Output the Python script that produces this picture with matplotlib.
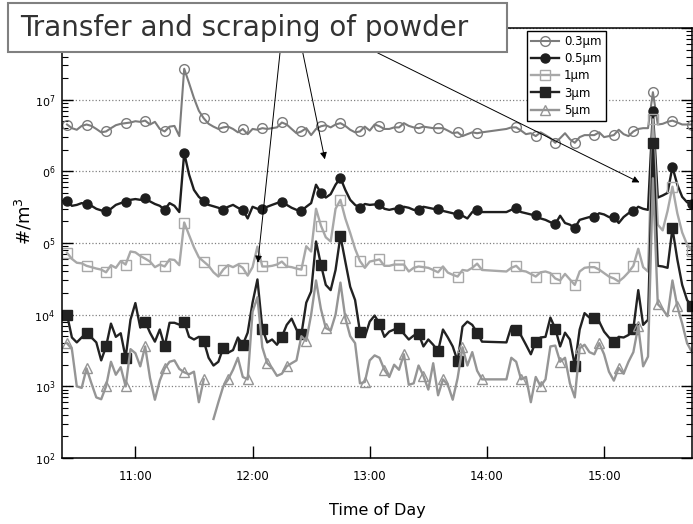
import numpy as np
import matplotlib
matplotlib.use('Agg')
import matplotlib.pyplot as plt
from matplotlib.lines import Line2D
from matplotlib.patches import Rectangle
from matplotlib.ticker import FixedLocator, FixedFormatter, LogLocator, NullFormatter

plt.rcParams['font.family'] = ['DejaVu Sans']
plt.rcParams['mathtext.default'] = 'regular'

# particle counter readings, one every 2.5 min starting 10:25
# None = no reading (logger gap), 0 = below detection
start_min = 25.0
step_min = 2.5

# 0.3 um, x1e6 #/m3
pm03 = [4.5, 4.0, 3.8, 4.3, 4.5, 4.3, 3.9, 3.5, 3.6, 4.0,
        4.4, 4.6, 4.7, 4.8, 5.0, 4.9, 5.1, 4.5, 4.9, 3.9,
        3.6, 4.2, 4.3, 3.1, 27, 17, 10.5, 7.0, 5.5, 4.6,
        4.2, 3.9, 4.1, 4.2, 3.9, 3.5, 3.9, 3.3, 3.9, 3.8,
        4.0, 3.9, 4.0, 4.1, 4.8, 4.5, 3.9, 3.4, 3.6, 4.0,
        3.2, 3.9, 4.25, 4.4, 4.1, 4.5, 4.7, 4.3, 3.8, 3.5,
        3.6, 4.2, 3.7, 4.5, 4.25, 3.9, 3.9, 4.1, 4.1, 4.7,
        4.3, 4.1, 4.0, 4.2, 4.1, 4.0, 4.0, 4.0, 3.7, 3.4,
        3.5, 3.1, 3.3, 3.5, 3.4, 3.5, None, None, None, None,
        3.9, 4.1, 4.1, 3.7, 3.3, 3.4, 3.1, 3.5, 3.2, 2.9,
        2.5, 2.9, 3.4, 2.8, 2.5, 3.0, 3.2, 3.2, 3.2, 3.5,
        3.0, 3.1, 3.2, 3.8, 3.3, 3.1, 3.6, 3.9, 4.0, 4.0,
        12.7, 4.5, 4.6, 4.9, 5.1, 4.8, 4.5, 4.5, 4.5]

# 0.5 um, x1e5 #/m3
pm05 = [3.86, 3.3, 3.4, 3.6, 3.5, 3.3, 3.0, 2.85, 2.8, 3.0,
        3.4, 3.6, 3.75, 4.0, 4.1, 4.0, 4.25, 3.8, 3.5, 3.3,
        2.9, 3.6, 3.3, 2.7, 18, 9.0, 5.5, 4.4, 3.86, 3.4,
        3.25, 3.1, 2.9, 3.2, 3.4, 3.1, 2.9, 2.2, 3.2, 3.0,
        3.0, 3.2, 3.4, 3.6, 3.75, 3.4, 3.1, 2.9, 2.8, 3.2,
        3.6, 6.5, 5.0, 4.3, 4.8, 6.5, 8.1, 5.5, 4.0, 3.4,
        3.1, 3.5, 3.4, 3.45, 3.5, 3.0, 2.9, 3.0, 3.0, 3.2,
        3.1, 2.9, 2.9, 3.2, 3.1, 3.0, 3.0, 2.8, 2.7, 2.6,
        2.5, 2.4, 2.2, 2.7, 2.9, 2.7, None, None, None, None,
        2.7, 2.9, 3.1, 2.7, 2.6, 2.5, 2.46, 2.2, 2.1, 1.95,
        1.84, 2.4, 1.9, 1.8, 1.62, 2.1, 2.2, 2.3, 2.3, 2.6,
        2.5, 2.3, 2.3, 1.9, 2.3, 2.6, 2.8, 3.2, 3.0, 2.9,
        69, 4.3, 4.6, 5.0, 11.5, 6.5, 4.4, 3.7, 3.5]

# 1 um, x1e4 #/m3
pm1 = [7.3, 6.0, 5.3, 5.2, 4.8, 4.6, 4.4, 4.25, 3.9, 4.9,
       4.5, 5.6, 5.0, 7.6, 7.4, 6.6, 6.05, 5.5, 4.6, 5.0,
       4.7, 5.9, 5.8, 4.9, 19.3, 12.9, 8.7, 6.3, 5.5, 4.8,
       3.9, 3.4, 4.25, 4.9, 4.6, 5.0, 4.5, 3.5, 4.6, 8.9,
       4.7, 4.7, 4.8, 5.0, 5.5, 4.7, 4.6, 4.4, 4.25, 9.0,
       7.6, 30, 17.5, 12.0, 10.5, 30, 40, 22, 13.8, 8.3,
       5.6, 4.5, 5.5, 5.7, 5.9, 4.8, 4.8, 5.0, 5.0, 5.0,
       4.0, 4.5, 4.7, 4.6, 4.5, 4.2, 3.9, 4.7, 3.86, 3.6,
       3.4, 4.2, 4.1, 4.5, 5.15, 4.2, None, None, None, None,
       4.0, 4.5, 4.8, 4.1, 4.0, 3.7, 3.4, 3.9, 4.0, 3.8,
       3.2, 3.0, 3.7, 3.1, 2.6, 4.0, 4.5, 4.6, 4.6, 4.25,
       3.8, 3.4, 3.2, 2.9, 3.3, 3.9, 4.8, 8.3, 4.6, 4.0,
       530, 18, 15, 28, 61, 26, 14, 9.5, 7.8]

# 3 um, #/m3
pm3 = [10000, 4800, 4100, 4800, 5600, 4800, 4100, 2300, 3600, 7500,
       4900, 5500, 2500, 8500, 14500, 6600, 8000, 5600, 4200, 6200,
       3600, 7700, 7700, 7250, 8000, 4900, 4500, 4900, 4300, 2500,
       1950, 2200, 3450, 2950, 3200, 4800, 3800, 5600, 14700, 31000,
       6400, 4100, 4500, 3800, 4900, 7200, 8800, 6200, 5300, 14700,
       21000, 105000, 50000, 26000, 22000, 42000, 125000, 55000, 24500, 16000,
       5800, 4900, 8000, 9700, 7500, 4900, 5800, 6200, 6600, 5400,
       4500, 5100, 5400, 3600, 4500, 3800, 3100, 6200, 4800, 3600,
       2250, 6800, 8000, 7200, 5600, 4200, None, None, None, None,
       4100, 6800, 6200, 5100, 3800, 2800, 4200, 4800, 4900, 9100,
       6400, 3600, 5600, 4500, 1950, 6200, 10500, 9100, 9100, 8000,
       5800, 4800, 4100, 4900, 4800, 5200, 6400, 22000, 7200, 8500,
       2500000, 48000, 47000, 45000, 160000, 59000, 26000, 16000, 13000]

# 5 um, #/m3
pm5 = [4000, 3300, 1000, 950, 1780, 1100, 700, 660, 1000, 2200,
       1450, 1850, 1000, 3300, 2900, 1900, 3600, 1300, 650, 1200,
       1780, 2200, 2300, 1750, 1570, 1470, 1600, 600, 1250, 0,
       350, 600, 1000, 1250, 1700, 2500, 1350, 1250, 11000, 17500,
       3500, 2100, 1800, 1400, 1500, 1900, 2100, 2300, 5000, 4300,
       10000, 30000, 12000, 6500, 6000, 10000, 28000, 9000, 5000, 4000,
       1100, 1150, 2300, 2700, 2500, 1700, 1350, 2000, 1700, 2800,
       1050, 1100, 1950, 1400, 900, 2100, 750, 1250, 1050, 650,
       1300, 3500, 1950, 3000, 1650, 1250, None, None, None, None,
       1250, 2500, 2200, 1250, 1350, 600, 1350, 1000, 1250, 3600,
       3700, 2200, 2500, 1100, 700, 3400, 3800, 3000, 2800, 4000,
       2800, 1600, 1200, 1800, 1500, 2200, 3000, 6900, 1900, 2600,
       800000, 14000, 11900, 9500, 30000, 13000, 7500, 4000, 3000]

labels = ['0.3\u03bcm', '0.5\u03bcm', '1\u03bcm', '3\u03bcm', '5\u03bcm']
scales = [1e6, 1e5, 1e4, 1, 1]
hour_ticks = [11, 12, 13, 14, 15]
hour_labels = ['11:00', '12:00', '13:00', '14:00', '15:00']
decades = [1e2, 1e3, 1e4, 1e5, 1e6, 1e7, 1e8]
# top label is hidden under the note box in the original
decade_labels = ['$10^{2}$', '$10^{3}$', '$10^{4}$', '$0^{5}$', '$0^{6}$', '$10^{7}$', '']

styles = [
    dict(color='#7c7c7c', lw=1.5, marker='o', ms=7, mfc='none', mec='#7c7c7c', mew=1.0),
    dict(color='#1e1e1e', lw=1.7, marker='o', ms=6.5, mfc='#1e1e1e', mec='#1e1e1e'),
    dict(color='#a8a8a8', lw=1.7, marker='s', ms=7, mfc='none', mec='#a8a8a8', mew=1.0),
    dict(color='#222222', lw=1.7, marker='s', ms=7.5, mfc='#222222', mec='#222222'),
    dict(color='#959595', lw=1.7, marker='^', ms=7, mfc='none', mec='#959595', mew=1.0),
]

minutes_all = start_min + step_min * np.arange(len(pm03))

fig = plt.figure(figsize=(6.93, 5.24), dpi=100)
ax = fig.add_axes([0.0895, 0.126, 0.909, 0.8206])
ax.set_yscale('log', nonpositive='mask')

handles = []
for vals, sc, lab, st in zip([pm03, pm05, pm1, pm3, pm5], scales, labels, styles):
    keep = [i for i, v in enumerate(vals) if v is not None]
    t = 10 + minutes_all[keep] / 60.0
    y = np.array([vals[i] for i in keep], dtype=float) * sc
    # a marker on every 4th valid reading
    marks = [int(p) for p in np.flatnonzero(y > 0)[::4]]
    ax.plot(t, y, markevery=marks, **st)
    handles.append(Line2D([], [], label=lab, **st))

ax.set_xlim(10.374, 15.75)
ax.set_ylim(1e2, 1e8)

ax.xaxis.set_major_locator(FixedLocator(hour_ticks))
ax.xaxis.set_major_formatter(FixedFormatter(hour_labels))
ax.yaxis.set_major_locator(FixedLocator(decades))
ax.yaxis.set_major_formatter(FixedFormatter(decade_labels))
ax.yaxis.set_minor_locator(LogLocator(base=10, subs=np.arange(2, 10)))
ax.yaxis.set_minor_formatter(NullFormatter())

ax.tick_params(axis='x', which='major', direction='in', length=9, width=1,
               top=False, labelsize=8.5, pad=9)
ax.tick_params(axis='y', which='major', direction='in', length=8, width=1,
               right=True, labelsize=8, pad=5)
ax.tick_params(axis='y', which='minor', direction='in', length=4, width=0.8, right=True)
for sp in ax.spines.values():
    sp.set_linewidth(1.1)

ax.grid(axis='y', which='major', linestyle=':', color='#808080', lw=0.9)

ax.set_xlabel('Time of Day', fontsize=11.5)
ax.xaxis.set_label_coords(0.5, -0.105)
ax.set_ylabel('#/m$^{3}$', fontsize=13)
ax.yaxis.set_label_coords(-0.043, 0.55)

leg = ax.legend(handles=handles, loc='upper left', bbox_to_anchor=(0.738, 0.993),
                fancybox=False, framealpha=1, edgecolor='black', fontsize=8.5,
                handlelength=2.4, labelspacing=0.35, borderpad=0.35,
                handletextpad=0.4, borderaxespad=0)
leg.get_frame().set_linewidth(1.0)

# arrows from the note down to the events
arrow_targets = [(12.045, 5.3e4), (12.617, 1.47e6), (15.302, 7.0e5)]
arrow_tails = [(0.404, 0.899), (0.437, 0.899), (0.545, 0.899)]
for (xt, yt), tail in zip(arrow_targets, arrow_tails):
    ax.annotate('', xy=(xt, yt), xycoords='data', xytext=tail, textcoords='figure fraction',
                arrowprops=dict(arrowstyle='-|>', color='black', lw=0.7,
                                mutation_scale=10, shrinkA=0, shrinkB=0),
                annotation_clip=False)

box = Rectangle((8 / 693, 1 - 52 / 524), 499 / 693, 49 / 524, transform=fig.transFigure,
                facecolor='white', edgecolor='#808080', lw=1.5, zorder=10)
fig.add_artist(box)
fig.text(20 / 693, 1 - 28 / 524, 'Transfer and scraping of powder', fontsize=20,
         color='#333333', ha='left', va='center', zorder=11)

fig.savefig('out.png', dpi=100)
